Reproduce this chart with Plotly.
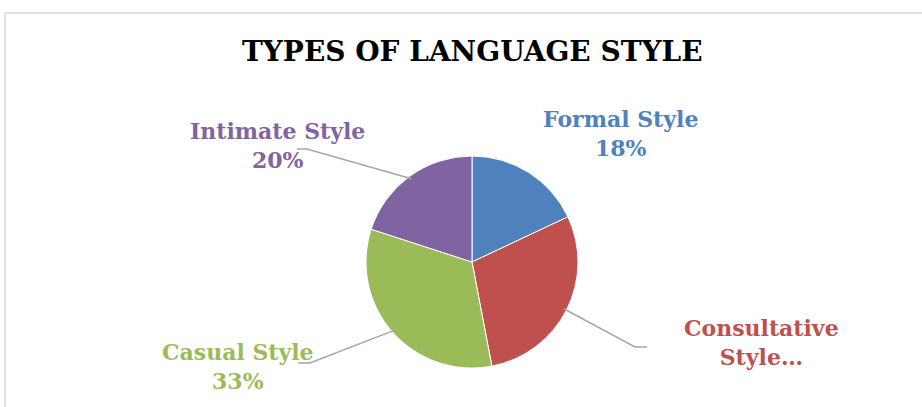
import math
import plotly.graph_objects as go

# ---- data ----
categories = ["Formal Style", "Consultative Style", "Casual Style", "Intimate Style"]
values = [18, 29, 33, 20]
label_texts = ["Formal Style<br>18%", "Consultative<br>Style…", "Casual Style<br>33%", "Intimate Style<br>20%"]
colors = ["#4F81BD", "#C0504D", "#9BBB59", "#8064A2"]

# ---- layout (pixels) ----
W, H = 922, 407
CX, CY, R = 472, 262, 106
label_pos = [(620, 134), (761, 342), (238, 366), (277, 145)]
# elbow points of leader lines (None = no leader)
elbows = [None, [(635, 347), (647, 347)], [(310, 363), (298, 363)], [(307, 149), (297, 149)]]

def px(x):
    return x / W

def py(y):
    return 1 - y / H

fig = go.Figure(go.Pie(
    labels=categories, values=values, sort=False, direction="clockwise", rotation=0,
    marker=dict(colors=colors, line=dict(color="white", width=1)),
    textinfo="none", hoverinfo="label+percent", showlegend=False,
    domain=dict(x=[px(CX - R), px(CX + R)], y=[py(CY + R), py(CY - R)]),
))

annotations = [dict(
    text="<b>TYPES OF LANGUAGE STYLE</b>", x=px(472), y=py(52), xref="paper", yref="paper",
    showarrow=False, font=dict(family="DejaVu Serif", size=28, color="#000000"),
    xanchor="center", yanchor="middle")]

shapes = [dict(type="rect", xref="paper", yref="paper", x0=px(5), y0=py(13), x1=px(W + 5), y1=py(H + 5),
               line=dict(color="#D9D9D9", width=1.5), fillcolor="rgba(0,0,0,0)")]

total = sum(values)
cum = 0
for i, v in enumerate(values):
    mid = (cum + v / 2) / total * 2 * math.pi
    cum += v
    lx, ly = label_pos[i]
    annotations.append(dict(
        text="<b>" + label_texts[i] + "</b>", x=px(lx), y=py(ly), xref="paper", yref="paper",
        showarrow=False, font=dict(family="DejaVu Serif", size=22, color=colors[i]),
        xanchor="center", yanchor="middle", align="center"))
    if elbows[i]:
        sx = CX + (R - 3) * math.sin(mid)
        sy = CY - (R - 3) * math.cos(mid)
        pts = [(sx, sy)] + elbows[i]
        path = "M " + " L ".join(f"{px(x)},{py(y)}" for x, y in pts)
        shapes.append(dict(type="path", xref="paper", yref="paper", path=path,
                           line=dict(color="#A6A6A6", width=1.5)))

fig.update_layout(
    width=W, height=H, margin=dict(l=0, r=0, t=0, b=0),
    paper_bgcolor="white", plot_bgcolor="white",
    annotations=annotations, shapes=shapes,
)

fig.write_html("out.html")
